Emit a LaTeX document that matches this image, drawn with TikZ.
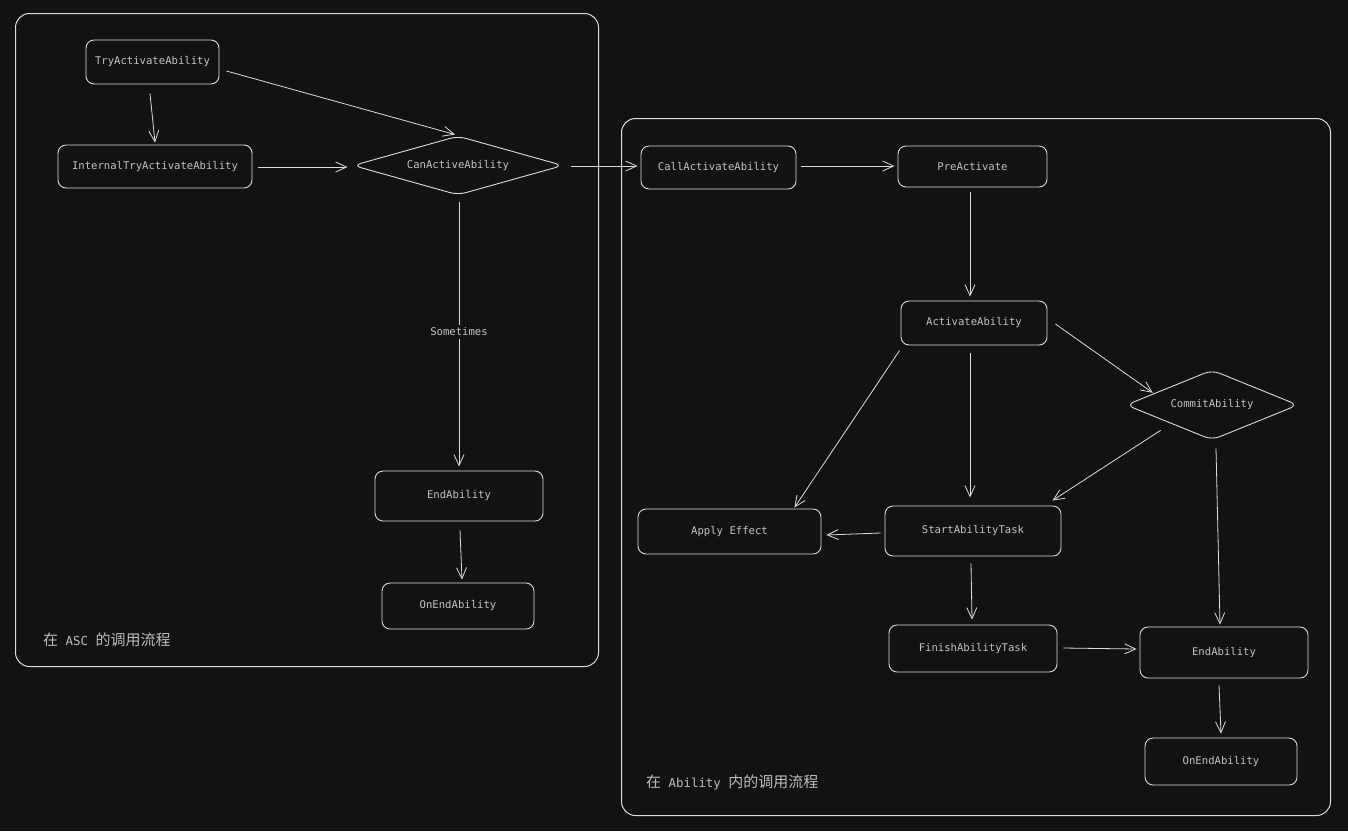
\documentclass[tikz,border=0pt]{standalone}
\usepackage{fontspec}
\newfontfamily\mono{DejaVu Sans Mono}
\newfontfamily\cjk{Noto Sans CJK SC}
\usetikzlibrary{arrows.meta,shapes.geometric}
\definecolor{bgc}{HTML}{121212}
\definecolor{strokec}{HTML}{DCDCDC}
\definecolor{textc}{HTML}{C4C4C4}
\definecolor{labelc}{HTML}{BDBDBD}
\tikzset{
  box/.style={draw=strokec, line width=0.9pt, rounded corners=8pt, text=textc,
    font=\mono\fontsize{10.6}{12}\selectfont, inner sep=0pt, anchor=center},
  dia/.style={diamond, draw=strokec, line width=0.9pt, rounded corners=8pt, text=textc,
    font=\mono\fontsize{10.6}{12}\selectfont, inner sep=0pt, anchor=center},
  frame/.style={draw=strokec, line width=1pt, rounded corners=14pt, inner sep=0pt, anchor=north west},
  arr/.style={draw=strokec, line width=0.8pt, -{Straight Barb[length=11pt,width=10pt,line width=0.8pt]}},
  lbl/.style={text=textc, font=\mono\fontsize{10.6}{12}\selectfont, fill=bgc, inner sep=3pt},
  grp/.style={text=labelc, anchor=west, inner sep=0pt},
}
\newcommand\grpmono[1]{{\mono\fontsize{12.4}{14}\selectfont\ #1\ }}
\begin{document}
\begin{tikzpicture}[x=1pt,y=-1pt]
\fill[bgc] (0,0) rectangle (1348,831);
\useasboundingbox (0,0) rectangle (1348,831);

% frames
\node[frame, minimum width=583pt, minimum height=653pt] (frameL) at (15,13) {};
\node[frame, minimum width=709pt, minimum height=697pt] (frameR) at (621,118) {};

% left nodes
\node[box, minimum width=133pt, minimum height=44pt] (try) at (152.5,62) {TryActivateAbility};
\node[box, minimum width=194pt, minimum height=43pt] (internal) at (155,166.5) {InternalTryActivateAbility};
\node[dia, aspect=3.56, minimum width=210pt, minimum height=59pt] (can) at (458,165.5) {CanActiveAbility};
\node[box, minimum width=168pt, minimum height=50pt] (endL) at (459,496) {EndAbility};
\node[box, minimum width=152pt, minimum height=46pt] (onendL) at (458,606) {OnEndAbility};

% right nodes
\node[box, minimum width=155pt, minimum height=43pt] (call) at (718.5,167.5) {CallActivateAbility};
\node[box, minimum width=149pt, minimum height=41pt] (pre) at (972.5,166.5) {PreActivate};
\node[box, minimum width=146pt, minimum height=44pt] (act) at (974,323) {ActivateAbility};
\node[dia, aspect=2.46, minimum width=172pt, minimum height=70pt] (commit) at (1212,405) {CommitAbility};
\node[box, minimum width=183pt, minimum height=45pt] (apply) at (729.5,531.5) {Apply Effect};
\node[box, minimum width=176pt, minimum height=50pt] (start) at (973,531) {StartAbilityTask};
\node[box, minimum width=168pt, minimum height=47pt] (finish) at (973,648.5) {FinishAbilityTask};
\node[box, minimum width=168pt, minimum height=51pt] (endR) at (1224,652.5) {EndAbility};
\node[box, minimum width=152pt, minimum height=47pt] (onendR) at (1221,761.5) {OnEndAbility};

% group labels
\node[grp] (lblL) at (43,640) {\cjk\fontsize{15}{17}\selectfont 在\grpmono{ASC}的调用流程};
\node[grp] (lblR) at (646,782) {\cjk\fontsize{15}{17}\selectfont 在\grpmono{Ability}内的调用流程};

% connectors
\draw[arr] ([shift={(7,9)}]try.east) -- ([shift={(-3,-1)}]can.north);
\draw[arr] ([shift={(-2.5,9)}]try.south) -- ([shift={(0,-2)}]internal.north);
\draw[arr] ([shift={(6,0.5)}]internal.east) -- ([shift={(-5,1.5)}]can.west);
\draw[arr] ([shift={(8,0.5)}]can.east) -- ([shift={(-3,-1.5)}]call.west);
\draw[arr] ([shift={(1,7)}]can.south) -- node[lbl, pos=0.49] (sometimes) {Sometimes} ([shift={(0,-4)}]endL.north);
\draw[arr] ([shift={(1,9)}]endL.south) -- ([shift={(4,-3)}]onendL.north);

\draw[arr] ([shift={(5,-1.5)}]call.east) -- ([shift={(-3,-0.5)}]pre.west);
\draw[arr] ([shift={(-2.5,5)}]pre.south) -- ([shift={(-4,-4)}]act.north);
\draw[arr] ([shift={(8,1)}]act.east) -- ([shift={(-16,5.5)}]commit.north west);
\draw[arr] ([shift={(-1,5)}]act.south west) -- ([shift={(-27,-1)}]apply.north east);
\draw[arr] ([shift={(-4,8)}]act.south) -- ([shift={(-3,-8)}]start.north);
\draw[arr] ([shift={(-8,7.5)}]commit.south west) -- ([shift={(-9,-5)}]start.north east);
\draw[arr] ([shift={(4,8)}]commit.south) -- ([shift={(-4,-2)}]endR.north);
\draw[arr] ([shift={(-4,2)}]start.west) -- ([shift={(5,3.5)}]apply.east);
\draw[arr] ([shift={(-2,7)}]start.south) -- ([shift={(-1,-5)}]finish.north);
\draw[arr] ([shift={(6,-0.5)}]finish.east) -- ([shift={(-3,-3.5)}]endR.west);
\draw[arr] ([shift={(-5,7)}]endR.south) -- ([shift={(0,-4)}]onendR.north);
\end{tikzpicture}
\end{document}
